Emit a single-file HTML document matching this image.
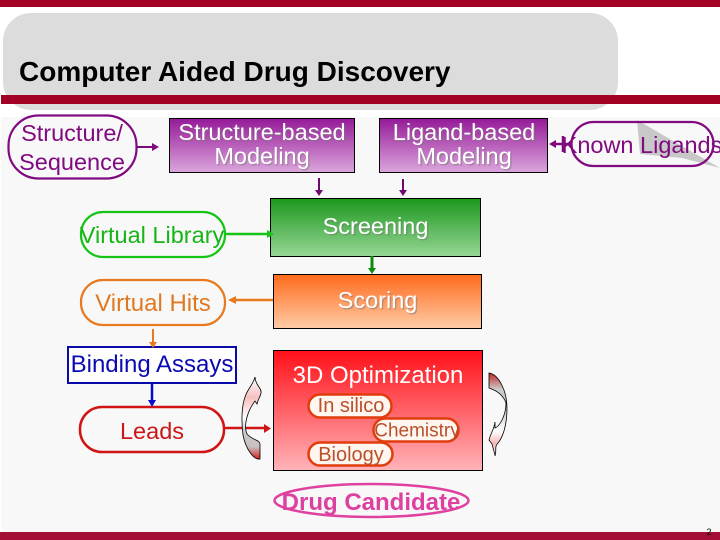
<!DOCTYPE html>
<html><head><meta charset="utf-8"><style>
html,body{margin:0;padding:0;width:720px;height:540px;overflow:hidden;background:#fff}
svg{display:block}
text{font-family:"Liberation Sans",sans-serif}
</style></head><body>
<svg width="720" height="540" viewBox="0 0 720 540" xmlns="http://www.w3.org/2000/svg">
<defs>
<linearGradient id="pu" x1="0" y1="0" x2="0" y2="1"><stop offset="0" stop-color="#951a98"/><stop offset="1" stop-color="#dba6dc"/></linearGradient>
<linearGradient id="gr" x1="0" y1="0" x2="0" y2="1"><stop offset="0" stop-color="#1c981c"/><stop offset="1" stop-color="#96d696"/></linearGradient>
<linearGradient id="or" x1="0" y1="0" x2="0" y2="1"><stop offset="0" stop-color="#ff6a1c"/><stop offset="1" stop-color="#ffcca6"/></linearGradient>
<linearGradient id="re" x1="0" y1="0" x2="0" y2="1"><stop offset="0" stop-color="#ff1018"/><stop offset="1" stop-color="#ffb4b8"/></linearGradient>
<linearGradient id="a1" x1="0" y1="0" x2="0" y2="1"><stop offset="0" stop-color="#fff"/><stop offset=".25" stop-color="#f6c0c0"/><stop offset=".5" stop-color="#fff"/><stop offset=".65" stop-color="#ccc"/><stop offset=".85" stop-color="#c8c0c0"/><stop offset="1" stop-color="#d02020"/></linearGradient>
<linearGradient id="a2" x1="0" y1="0" x2="0" y2="1"><stop offset="0" stop-color="#c02828"/><stop offset=".2" stop-color="#ccc"/><stop offset=".45" stop-color="#ccc"/><stop offset=".7" stop-color="#fff"/><stop offset=".85" stop-color="#f6b8b8"/><stop offset="1" stop-color="#fff"/></linearGradient>
</defs>
<rect width="720" height="540" fill="#fff"/>
<rect x="1" y="117" width="719" height="415" fill="#f8f8f8"/>
<rect x="3" y="13" width="615" height="97" rx="28" fill="#dcdcdc"/>
<rect width="720" height="7" fill="#a30026"/>
<rect x="1" y="95" width="719" height="9" fill="#a30026"/>
<rect y="532" width="720" height="8" fill="#a30f36"/>
<text x="19" y="81" font-size="28" font-weight="bold" fill="#000">Computer Aided Drug Discovery</text>
<path d="M637 120 L720 168 L682 158 L640 154 Z" fill="#c8c8c8"/>
<g fill="none" stroke-width="2.2">
<rect x="8.500" y="115.500" width="128" height="63" rx="30" stroke="#800a80"/>
<rect x="571.500" y="122" width="142" height="44" rx="22" stroke="#800a80"/>
<rect x="81" y="212" width="144" height="45" rx="22" stroke="#16c416"/>
<rect x="81" y="280" width="144" height="45" rx="22" stroke="#e8791f"/>
<rect x="80" y="407" width="144" height="45" rx="22" stroke="#d01414" stroke-width="2.500"/>
<ellipse cx="371.500" cy="500.500" rx="97" ry="16.500" stroke="#e040a0" stroke-width="2.500"/>
</g>
<rect x="68" y="347" width="168" height="36" fill="#fff" stroke="#0a0aa8" stroke-width="2"/>
<g stroke="#000" stroke-width="1">
<rect x="169.500" y="118.500" width="185" height="54" fill="url(#pu)"/>
<rect x="379.500" y="118.500" width="168" height="54" fill="url(#pu)"/>
<rect x="270.500" y="198.500" width="210" height="58" fill="url(#gr)"/>
<rect x="273.500" y="274.500" width="208" height="54" fill="url(#or)"/>
<rect x="273.500" y="350.500" width="209" height="120" fill="url(#re)"/>
</g>
<g fill="#fff6f0" stroke="#e03c0c" stroke-width="2.500">
<rect x="308.500" y="394.500" width="83" height="23" rx="11.500"/>
<rect x="308.500" y="442.500" width="84" height="23" rx="11.500"/>
<rect x="373.500" y="418.500" width="85" height="23" rx="11.500"/>
</g>
<g fill="#800a80" font-size="23.500" text-anchor="middle">
<text x="72" y="141">Structure/</text>
<text x="72" y="170">Sequence</text>
<text x="642" y="153">Known Ligands</text>
</g>
<text x="152" y="243" font-size="23.500" fill="#16b416" text-anchor="middle">Virtual Library</text>
<text x="153" y="311" font-size="24" fill="#e07820" text-anchor="middle">Virtual Hits</text>
<text x="152" y="372" font-size="24" fill="#0a0ab4" text-anchor="middle">Binding Assays</text>
<text x="152" y="439" font-size="23.500" fill="#c81818" text-anchor="middle">Leads</text>
<text x="371" y="510" font-size="24" font-weight="bold" fill="#dc40a0" text-anchor="middle">Drug Candidate</text>
<g font-size="23.500" text-anchor="middle" fill="#777" opacity=".45">
<text x="263.500" y="141.500">Structure-based</text>
<text x="263.500" y="165.500">Modeling</text>
<text x="465.500" y="141.500">Ligand-based</text>
<text x="465.500" y="165.500">Modeling</text>
<text x="377" y="235.500">Screening</text>
<text x="379" y="309.500">Scoring</text>
</g>
<g font-size="23.500" text-anchor="middle" fill="#fff">
<text x="262" y="140">Structure-based</text>
<text x="262" y="164">Modeling</text>
<text x="464" y="140">Ligand-based</text>
<text x="464" y="164">Modeling</text>
<text x="375.500" y="234">Screening</text>
<text x="377.500" y="308">Scoring</text>
<text x="378" y="383" font-size="24">3D Optimization</text>
</g>
<g font-size="20" text-anchor="middle" fill="#b8502c">
<text x="351" y="412">In silico</text>
<text x="417" y="436.500" font-size="19">Chemistry</text>
<text x="351" y="461">Biology</text>
</g>
<text x="709" y="535" font-size="9" fill="#000" text-anchor="middle">2</text>
<g fill="none" stroke-width="2">
<path d="M137 147 H152" stroke="#800a80"/>
<path d="M319 178 V190" stroke="#6e0a6e"/>
<path d="M403 179 V190" stroke="#6e0a6e"/>
<path d="M554 144 H571" stroke="#800a80" stroke-width="2.500"/>
<path d="M225 234 H268" stroke="#16c416" stroke-width="2.500"/>
<path d="M372 256 V268" stroke="#0c8c0c" stroke-width="3"/>
<path d="M273 300 H235" stroke="#e8791f" stroke-width="2.500"/>
<path d="M153 329 V343" stroke="#e8791f"/>
<path d="M152 384 V401" stroke="#0a0ad0" stroke-width="2.500"/>
<path d="M224 428 H265" stroke="#d01414" stroke-width="2.500"/>
</g>
<path d="M563 136 V152" stroke="#800a80" stroke-width="2.500" fill="none"/>
<path d="M152 143 L159 147 L152 151 Z" fill="#800a80"/>
<path d="M315 190 H323 L319 196 Z" fill="#6e0a6e"/>
<path d="M399 190 H407 L403 196 Z" fill="#6e0a6e"/>
<path d="M549 144 L556 140 V148 Z" fill="#800a80"/>
<path d="M267 230 L274 234 L267 238 Z" fill="#16c416"/>
<path d="M368 268 H376 L372 274 Z" fill="#0c8c0c"/>
<path d="M236 296 V304 L228 300 Z" fill="#e8791f"/>
<path d="M149 342 H157 L153 348 Z" fill="#e8791f"/>
<path d="M148 400 H156 L152 407 Z" fill="#0a0ad0"/>
<path d="M264 424 L271 428.500 L264 433 Z" fill="#d01414"/>
<path d="M255 377 C255 385 262 388 261 393 C260 398 258 399 257 404 L255 401 C248 410 243 425 247 434 C252 440 260 440 260 444 V459 C254 460 246 450 243 435 C241 420 242 405 245 397 C248 388 253 385 255 377 Z" fill="url(#a1)" stroke="#000" stroke-width=".8"/>
<path d="M489 373 C498 374 507 390 507 408 C507 425 503 437 498 443 C494 447 497 450 495 456 L495 455 L492 444 L489 440 C491 432 494 430 495 422 L495 428 C500 426 506 415 506 403 C503 394 495 390 489 388 Z" fill="url(#a2)" stroke="#000" stroke-width=".8"/>
</svg>
</body></html>
